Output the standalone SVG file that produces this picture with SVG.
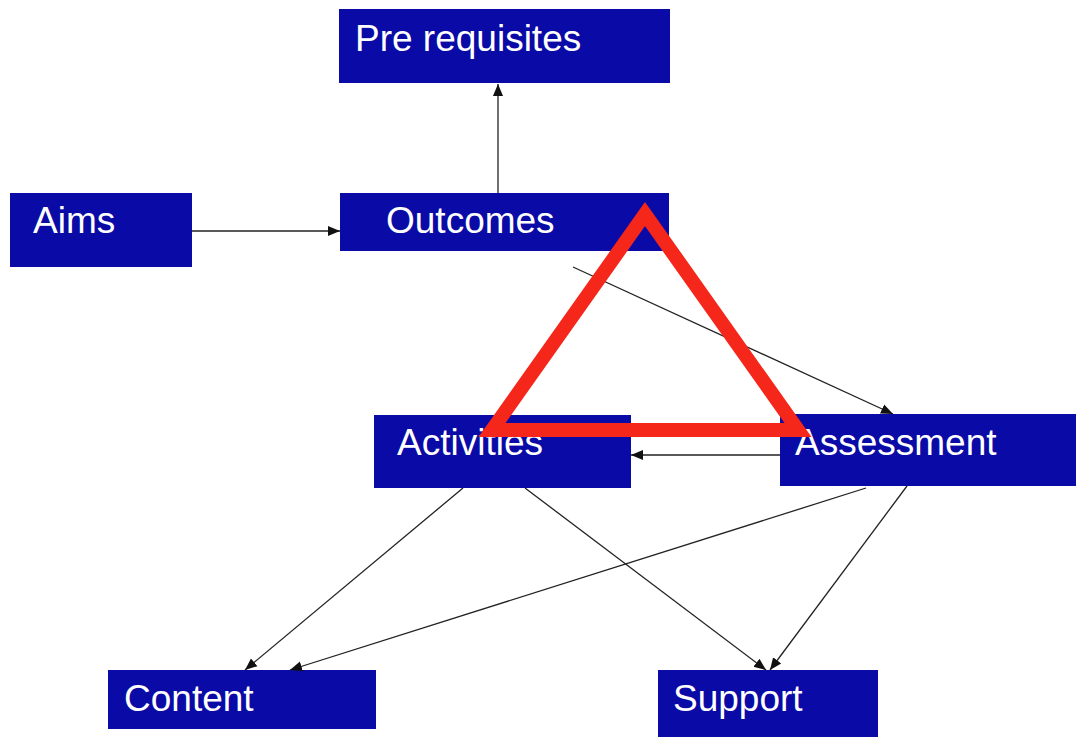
<svg xmlns="http://www.w3.org/2000/svg" width="1076" height="737" viewBox="0 0 1076 737">
  <defs>
    <marker id="arrow" viewBox="0 0 10 10" refX="10" refY="5" markerWidth="12" markerHeight="12" markerUnits="userSpaceOnUse" orient="auto">
      <path d="M0,0.8 L10,5 L0,9.2 Z" fill="#111"/>
    </marker>
    <style>
      .box { fill: #0a0aa6; }
      .label { font-family: "Liberation Sans", Arial, sans-serif; font-size: 37px; fill: #ffffff; }
      .edge { stroke: #222; stroke-width: 1.3; fill: none; marker-end: url(#arrow); }
    </style>
  </defs>
  <rect width="1076" height="737" fill="#ffffff"/>

  <g id="prerequisites">
    <rect class="box" x="339" y="9" width="331" height="74"/>
    <text class="label" x="355" y="51">Pre requisites</text>
  </g>
  <g id="aims">
    <rect class="box" x="10" y="193" width="182" height="74"/>
    <text class="label" x="33" y="233">Aims</text>
  </g>
  <g id="outcomes">
    <rect class="box" x="340" y="193" width="329" height="58"/>
    <text class="label" x="386" y="233">Outcomes</text>
  </g>
  <g id="activities">
    <rect class="box" x="374" y="415" width="257" height="73"/>
    <text class="label" x="397" y="455">Activities</text>
  </g>
  <g id="assessment">
    <rect class="box" x="780" y="414" width="296" height="72"/>
    <text class="label" x="795" y="455">Assessment</text>
  </g>
  <g id="content">
    <rect class="box" x="108" y="670" width="268" height="59"/>
    <text class="label" x="124" y="711">Content</text>
  </g>
  <g id="support">
    <rect class="box" x="658" y="670" width="220" height="67"/>
    <text class="label" x="673" y="711">Support</text>
  </g>

  <g id="connectors">
    <line class="edge" x1="498" y1="193" x2="498" y2="84"/>
    <line class="edge" x1="192" y1="231" x2="340" y2="231"/>
    <line class="edge" x1="573" y1="267" x2="893" y2="414"/>
    <line class="edge" x1="780" y1="455" x2="631" y2="455"/>
    <line class="edge" x1="463" y1="488" x2="245" y2="670"/>
    <line class="edge" x1="525" y1="488" x2="766" y2="670"/>
    <line class="edge" x1="866" y1="488" x2="290" y2="670"/>
    <line class="edge" x1="907" y1="486" x2="770" y2="670"/>
  </g>

  <g id="triangle">
    <polygon points="645,214 492,430 798,430" fill="none" stroke="#f5261a" stroke-width="14" stroke-linejoin="miter"/>
  </g>
</svg>
